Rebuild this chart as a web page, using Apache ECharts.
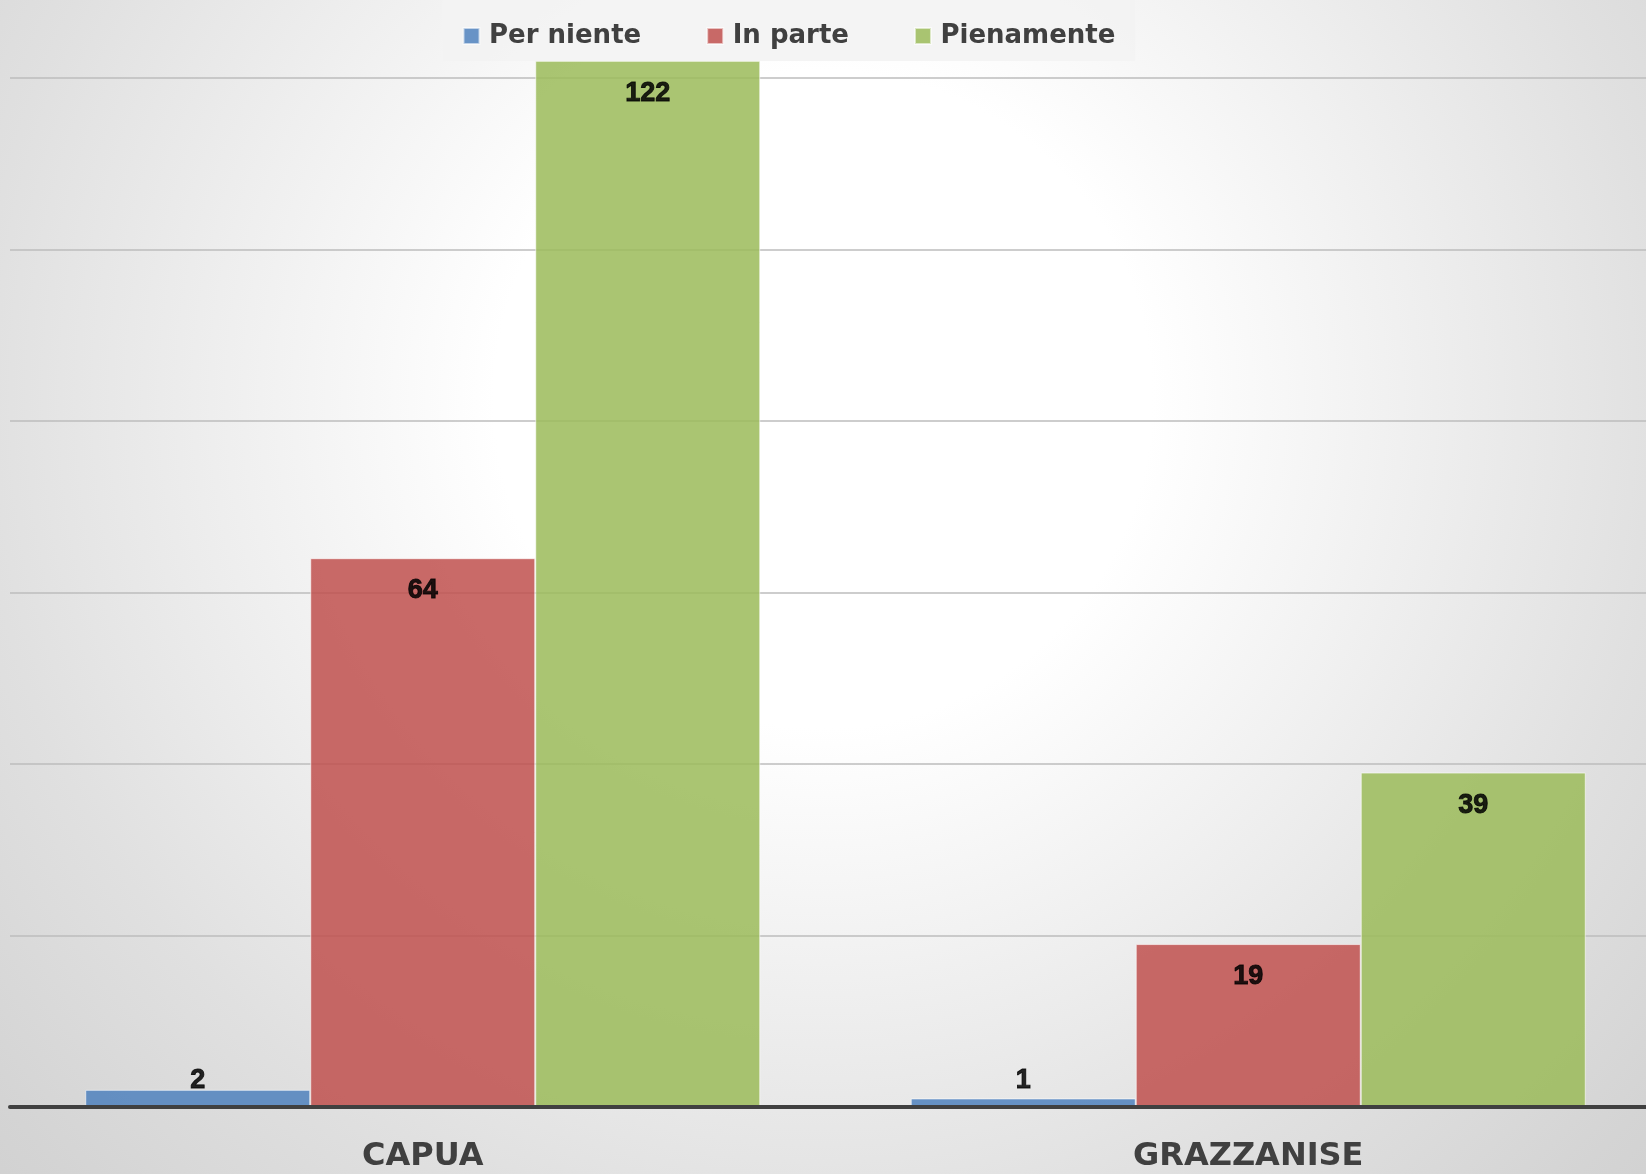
<!DOCTYPE html>
<html>
<head>
<meta charset="utf-8">
<script src="https://cdn.jsdelivr.net/npm/echarts@6/dist/echarts.min.js"></script>
<style>
html,body{margin:0;padding:0;width:1646px;height:1174px;overflow:hidden;}
#c{width:1646px;height:1174px;}
</style>
</head>
<body>
<div id="c"></div>
<script>
const categories = ['CAPUA', 'GRAZZANISE'];
const seriesNames = ['Per niente', 'In parte', 'Pienamente'];
const perNiente = [2, 1];
const inParte = [64, 19];
const pienamente = [122, 39];
const yTicks = [0, 20, 40, 60, 80, 100, 120];

const colors = ['#4F81BD', '#C0504D', '#9BBB59'];
const FONT = "'Liberation Sans', Arial, sans-serif";
const WIDE = "'DejaVu Sans', Verdana, sans-serif";

function toItems(arr) {
  return arr.map(v => ({
    value: v,
    label: v < 8 ? { position: 'insideBottom', distance: 13 } : { position: 'insideTop', distance: 19 }
  }));
}

const chart = echarts.init(document.getElementById('c'));
const seriesData = [perNiente, inParte, pienamente];
chart.setOption({
  animation: false,
  backgroundColor: {
    type: 'radial', x: 0.5, y: 0.34, r: 1.0,
    colorStops: [
      { offset: 0, color: '#ffffff' },
      { offset: 0.28, color: '#ffffff' },
      { offset: 0.72, color: '#e0e0e0' },
      { offset: 0.92, color: '#d4d4d4' },
      { offset: 1, color: '#d0d0d0' }
    ]
  },
  legend: {
    data: seriesNames,
    left: 442.5, top: 0,
    padding: [23, 20, 12, 20],
    backgroundColor: 'rgba(243,243,243,0.9)',
    itemWidth: 25, itemHeight: 16, itemGap: 65,
    icon: 'path://M0,0H10V10H0Z',
    symbolKeepAspect: true,
    textStyle: { fontFamily: WIDE, fontWeight: 'bold', fontSize: 26, color: '#404040' }
  },
  grid: { left: 10, width: 1651, top: 78, bottom: 67, containLabel: false, outerBoundsMode: 'none' },
  xAxis: {
    type: 'category', data: categories, z: 5,
    axisLine: { lineStyle: { color: '#404040', width: 4 } },
    axisTick: { show: false },
    axisLabel: { fontFamily: WIDE, fontWeight: 'bold', fontSize: 32, color: '#404040', margin: 34 }
  },
  yAxis: {
    type: 'value', min: yTicks[0], max: yTicks[yTicks.length - 1], interval: 20,
    axisLabel: { show: false }, axisLine: { show: false }, axisTick: { show: false },
    splitLine: { lineStyle: { color: '#bdbdbd', width: 1.5 } }
  },
  series: seriesNames.map((n, i) => ({
    name: n, type: 'bar', clip: false,
    barWidth: 225, barGap: '0%',
    data: toItems(seriesData[i]),
    itemStyle: { color: colors[i], opacity: 0.85, borderColor: 'rgba(255,255,255,0.7)', borderWidth: 1 },
    label: { show: true, fontFamily: FONT, fontWeight: 'bold', fontSize: 27, color: '#000',
             textBorderColor: '#000', textBorderWidth: 0.9 }
  }))
});
</script>
</body>
</html>
